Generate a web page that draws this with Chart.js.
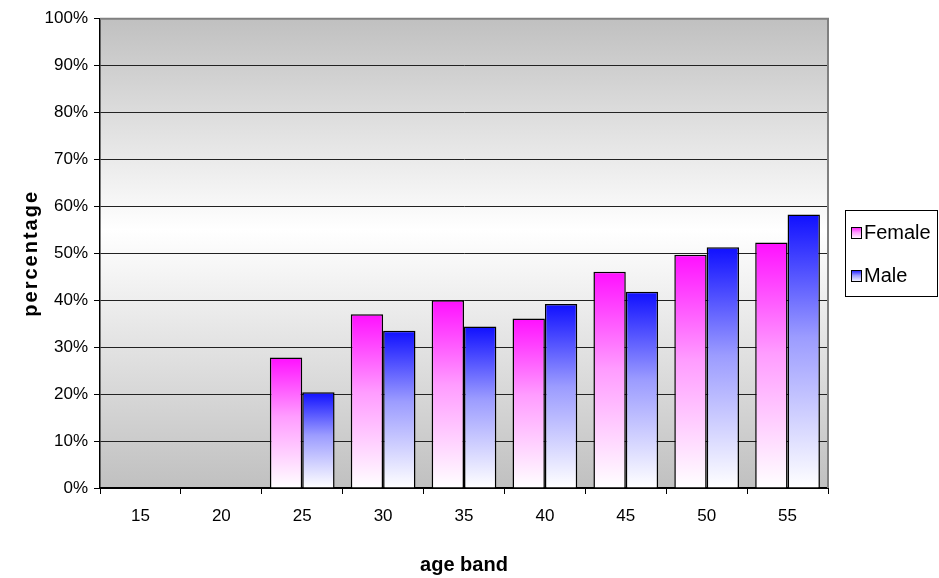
<!DOCTYPE html>
<html>
<head>
<meta charset="utf-8">
<script src="https://cdn.jsdelivr.net/npm/chart.js@4/dist/chart.umd.min.js"></script>
<style>
  html, body { margin: 0; padding: 0; background: #fff; }
  #wrap { width: 939px; height: 578px; }
</style>
</head>
<body>
<div id="wrap"><canvas id="myChart" width="939" height="578"></canvas></div>
<script>
const ageBands = ['15', '20', '25', '30', '35', '40', '45', '50', '55'];
const femaleValues = [null, null, 27.8, 37.0, 40.0, 36.1, 46.1, 49.7, 52.3];
const maleValues = [null, null, 20.4, 33.5, 34.4, 39.2, 41.8, 51.3, 58.3];
const yTicks = [0, 10, 20, 30, 40, 50, 60, 70, 80, 90, 100];

const FEMALE_TOP = '#ff10ff';
const FEMALE_MID = '#ff9cff';
const MALE_TOP = '#1010ff';
const MALE_MID = '#9c9cff';
const tickFont = "'Liberation Sans Narrow', 'Arial Narrow', 'Liberation Sans', Arial, sans-serif";
const mainFont = "'Liberation Sans', Arial, sans-serif";

function barGradient(context, top, mid) {
    const chart = context.chart;
    if (!chart.chartArea) return top;
    const v = context.raw;
    if (v == null) return top;
    const y = chart.scales.y;
    const y0 = y.getPixelForValue(v);
    const y1 = y.getPixelForValue(0);
    const g = chart.ctx.createLinearGradient(0, y0, 0, y1);
    g.addColorStop(0, top);
    g.addColorStop(0.45, mid);
    g.addColorStop(1, '#ffffff');
    return g;
}

// background gradient of the plot area + grey frame top/right
const plotBackground = {
    id: 'plotBackground',
    beforeDraw(chart) {
        const { ctx, chartArea: a } = chart;
        const g = ctx.createLinearGradient(0, a.top, 0, a.bottom);
        g.addColorStop(0, '#c0c0c0');
        g.addColorStop(0.45, '#ffffff');
        g.addColorStop(1, '#c0c0c0');
        ctx.save();
        ctx.fillStyle = g;
        ctx.fillRect(a.left, a.top, a.right - a.left, a.bottom - a.top);
        ctx.restore();
    },
    afterDraw(chart) {
        const { ctx, chartArea: a } = chart;
        ctx.save();
        ctx.strokeStyle = '#808080';
        ctx.lineWidth = 2;
        ctx.beginPath();
        ctx.moveTo(a.left, a.top);
        ctx.lineTo(a.right, a.top);
        ctx.lineTo(a.right, a.bottom);
        ctx.stroke();
        ctx.restore();
    }
};

// y title with letter spacing
const yTitle = {
    id: 'yTitle',
    afterDraw(chart) {
        const { ctx, chartArea: a } = chart;
        ctx.save();
        ctx.translate(31, (a.top + a.bottom) / 2);
        ctx.rotate(-Math.PI / 2);
        ctx.font = "bold 20px " + mainFont;
        ctx.letterSpacing = '2px';
        ctx.fillStyle = '#000';
        ctx.textAlign = 'center';
        ctx.textBaseline = 'middle';
        ctx.fillText('percentage', 0, 0);
        ctx.restore();
    }
};

// boxed legend on the right
const boxLegend = {
    id: 'boxLegend',
    afterDraw(chart) {
        const { ctx } = chart;
        const tops = [FEMALE_TOP, MALE_TOP];
        const mids = [FEMALE_MID, MALE_MID];
        ctx.save();
        ctx.strokeStyle = '#000';
        ctx.lineWidth = 1;
        ctx.strokeRect(845.5, 210.5, 92, 86);
        chart.data.datasets.forEach((ds, i) => {
            const cy = 233 + i * 43;
            const g = ctx.createLinearGradient(0, cy - 6, 0, cy + 6);
            g.addColorStop(0, tops[i]);
            g.addColorStop(0.45, mids[i]);
            g.addColorStop(1, '#ffffff');
            ctx.fillStyle = g;
            ctx.fillRect(851, cy - 6, 10, 12);
            ctx.strokeRect(851.5, cy - 5.5, 10, 11);
            ctx.fillStyle = '#000';
            ctx.font = "20px " + mainFont;
            ctx.textBaseline = 'middle';
            ctx.fillText(ds.label, 864, cy);
        });
        ctx.restore();
    }
};

const ctx = document.getElementById('myChart').getContext('2d');
const myChart = new Chart(ctx, {
    type: 'bar',
    data: {
        labels: ageBands,
        datasets: [{
            label: 'Female',
            data: femaleValues,
            backgroundColor: c => barGradient(c, FEMALE_TOP, FEMALE_MID),
            borderColor: '#000',
            borderWidth: 1.5
        }, {
            label: 'Male',
            data: maleValues,
            backgroundColor: c => barGradient(c, MALE_TOP, MALE_MID),
            borderColor: '#000',
            borderWidth: 1.5
        }]
    },
    options: {
        responsive: false,
        animation: false,
        devicePixelRatio: 1,
        layout: { padding: { left: 0, right: 111, top: 18.7, bottom: 0 } },
        categoryPercentage: 0.8,
        barPercentage: 1.0,
        plugins: {
            legend: { display: false },
            tooltip: { enabled: false }
        },
        scales: {
            x: {
                grid: { offset: true, drawOnChartArea: false, drawTicks: true, tickLength: 6, tickColor: '#000' },
                border: { color: '#000', width: 2 },
                ticks: { color: '#000', font: { family: tickFont, size: 17 }, padding: 12 },
                title: {
                    display: true, text: 'age band', color: '#000',
                    font: { family: mainFont, size: 20, weight: 'bold' },
                    padding: { top: 0, bottom: 1 }
                },
                afterFit(scale) { scale.height = 90; }
            },
            y: {
                min: 0,
                max: 100,
                afterBuildTicks(scale) { scale.ticks = yTicks.map(v => ({ value: v })); },
                grid: {
                    color: c => (c.tick && c.tick.value === 100 ? '#808080' : '#222'),
                    lineWidth: 1,
                    tickLength: 6,
                    tickColor: '#000'
                },
                border: { color: '#000', width: 1.5 },
                ticks: {
                    color: '#000',
                    font: { family: tickFont, size: 17 },
                    padding: 6,
                    callback: v => v + '%'
                },
                afterFit(scale) { scale.width = 100; }
            }
        }
    },
    plugins: [plotBackground, yTitle, boxLegend]
});
</script>
</body>
</html>
